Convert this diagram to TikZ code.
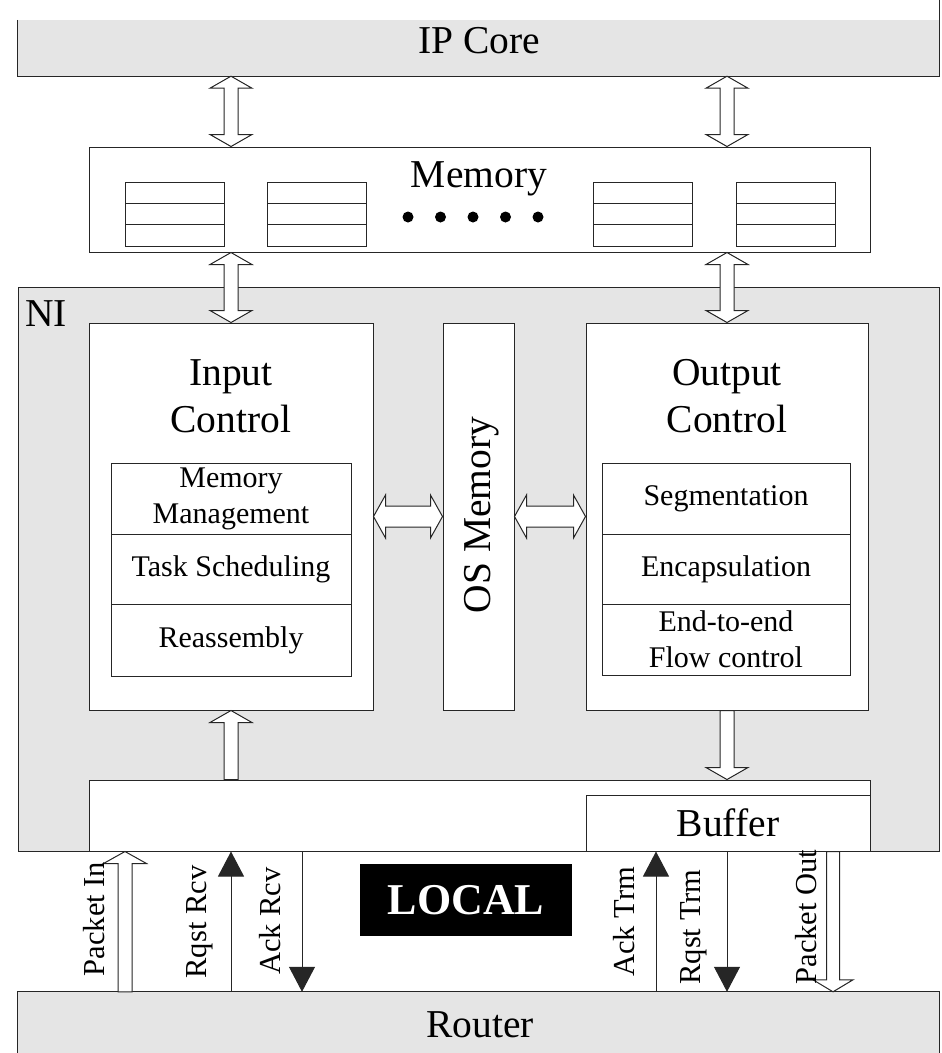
\documentclass[tikz,border=0pt]{standalone}
\usepackage{fontspec}
\setmainfont{Liberation Serif}
\usetikzlibrary{calc,arrows.meta}

\definecolor{nigray}{gray}{0.9}
\tikzset{
  outline/.style={draw=black!85, line width=1pt},
  box/.style={outline, fill=white, inner sep=0pt},
  graybox/.style={box, fill=nigray},
  rowbox/.style={box, align=center, font=\fontsize{30}{36}\selectfont},
  bigtext/.style={font=\fontsize{39.5}{47}\selectfont, inner sep=0pt},
  smalltext/.style={font=\fontsize{30.5}{36}\selectfont, inner sep=0pt},
  hollow/.style={outline, fill=white, line join=miter},
  signal/.style={outline, -{Triangle[length=25pt,width=26pt]}},
}

% hollow arrows: #1 from, #2 to, #3 half shaft, #4 half head
\newcommand{\dblarrow}[4]{%
  \coordinate (hA) at ($(#1)!12pt!(#2)$);
  \coordinate (hB) at ($(#2)!12pt!(#1)$);
  \draw[hollow] (#1) -- ($(hA)!#4!90:(#2)$) -- ($(hA)!#3!90:(#2)$)
    -- ($(hB)!#3!-90:(#1)$) -- ($(hB)!#4!-90:(#1)$) -- (#2)
    -- ($(hB)!#4!90:(#1)$) -- ($(hB)!#3!90:(#1)$)
    -- ($(hA)!#3!-90:(#2)$) -- ($(hA)!#4!-90:(#2)$) -- cycle;}
\newcommand{\sglarrow}[4]{%
  \coordinate (hB) at ($(#2)!12pt!(#1)$);
  \draw[hollow] ($(#1)!#3!90:(#2)$) -- ($(hB)!#3!-90:(#1)$)
    -- ($(hB)!#4!-90:(#1)$) -- (#2) -- ($(hB)!#4!90:(#1)$)
    -- ($(hB)!#3!90:(#1)$) -- ($(#1)!#3!-90:(#2)$) -- cycle;}

\begin{document}
\begin{tikzpicture}[x=1pt, y=-1pt]
  \useasboundingbox (0,0) rectangle (942,1053);
  % IP core
  \node[fill=nigray, minimum width=921pt, minimum height=56pt, inner sep=0pt] (ipcore) at (478.5,48) {};
  \draw[outline] (ipcore.north west) -- (ipcore.south west) -- (ipcore.south east) -- (ipcore.east |- 0,0);
  \node[bigtext, anchor=base] (iplabel) at (479,53) {IP Core};
  % Memory
  \node[box, minimum width=781pt, minimum height=105pt] (memory) at (479.5,199.5) {};
  \node[bigtext, anchor=base] (memlabel) at (479,187) {Memory};
  \foreach \sx in {125,267,593,736} {
    \draw[outline] (\sx,182) rectangle ++(99,64) (\sx,203) -- ++(99,0) (\sx,224) -- ++(99,0);
  }
  \foreach \dx in {408,440.5,473,505.5,538}
    \fill (\dx,217) circle (5.5pt);
  % NI
  \node[graybox, minimum width=921pt, minimum height=564pt] (ni) at (478.5,569) {};
  \node[bigtext, anchor=base west] (nilabel) at (25,326) {NI};
  % Input control
  \node[box, minimum width=284pt, minimum height=387pt] (inctl) at (231,516.5) {};
  \node[bigtext, align=center] (inlabel) at (231,396) {Input\\Control};
  \node[rowbox, minimum width=240pt, minimum height=71pt] (memmgmt) at (231,498.5) {Memory\\Management};
  \node[rowbox, minimum width=240pt, minimum height=70pt] (tasksch) at (231,569) {Task Scheduling};
  \node[rowbox, minimum width=240pt, minimum height=72pt] (reasm) at (231,640) {Reassembly};
  % OS memory
  \node[box, minimum width=71pt, minimum height=387pt] (osmem) at (478.5,516.5) {};
  \node[bigtext, rotate=90] (oslabel) at (482,515) {OS Memory};
  % Output control
  \node[box, minimum width=282pt, minimum height=387pt] (outctl) at (727,516.5) {};
  \node[bigtext, align=center] (outlabel) at (727,396) {Output\\Control};
  \node[rowbox, minimum width=248pt, minimum height=71pt] (segm) at (726,498.5) {Segmentation};
  \node[rowbox, minimum width=248pt, minimum height=70pt] (encap) at (726,569) {Encapsulation};
  \node[rowbox, minimum width=248pt, minimum height=71pt] (flowctl) at (726,639.5) {End-to-end\\Flow control};
  % Interface and buffer
  \node[box, minimum width=781pt, minimum height=71pt] (iface) at (479.5,815.5) {};
  \node[box, bigtext, minimum width=284pt, minimum height=56pt] (buffer) at (728,823) {Buffer};
  % Router
  \node[fill=nigray, minimum width=921pt, minimum height=61pt, inner sep=0pt] (router) at (478.5,1022.5) {};
  \draw[outline] (router.south west) -- (router.north west) -- (router.north east) -- (router.south east);
  \node[bigtext, anchor=base] (rtlabel) at (480,1037) {Router};
  % LOCAL
  \node[fill=black, text=white, font=\fontsize{44}{50}\selectfont\bfseries, minimum width=212pt, minimum height=72pt, inner sep=0pt] (local) at (466,900) {LOCAL};
  % Block arrows
  \dblarrow{ipcore.south -| inctl.center}{memory.north -| inctl.center}{7pt}{21pt}
  \dblarrow{ipcore.south -| outctl.center}{memory.north -| outctl.center}{7pt}{21pt}
  \dblarrow{memory.south -| inctl.center}{inctl.north}{7pt}{21pt}
  \dblarrow{memory.south -| outctl.center}{outctl.north}{7pt}{21pt}
  \dblarrow{inctl.east}{osmem.west}{10.5pt}{21.5pt}
  \dblarrow{osmem.east}{outctl.west}{10.5pt}{21.5pt}
  \sglarrow{iface.north -| inctl.center}{inctl.south}{7pt}{21pt}
  \sglarrow{outctl.south}{iface.north -| outctl.center}{7pt}{21pt}
  % Signals to router
  \foreach \cn/\sx in {pin/125, rqr/231, akr/302, akt/656, rqt/727, pout/833}
    \coordinate (\cn) at (\sx,0);
  \sglarrow{router.north -| pin}{iface.south -| pin}{7pt}{21.5pt}
  \draw[signal] (router.north -| rqr) -- (iface.south -| rqr);
  \draw[signal] (iface.south -| akr) -- (router.north -| akr);
  \draw[signal] (router.north -| akt) -- (iface.south -| akt);
  \draw[signal] (iface.south -| rqt) -- (router.north -| rqt);
  \sglarrow{iface.south -| pout}{router.north -| pout}{6.5pt}{20pt}
  \node[smalltext, rotate=90] (pinlabel) at (94,919) {Packet In};
  \node[smalltext, rotate=90] (rqrlabel) at (200,922) {Rqst Rcv};
  \node[smalltext, rotate=90] (akrlabel) at (270,921) {Ack Rcv};
  \node[smalltext, rotate=90] (aktlabel) at (624,922) {Ack Trm};
  \node[smalltext, rotate=90] (rqtlabel) at (694,927) {Rqst Trm};
  \node[smalltext, rotate=90] (poutlabel) at (806,917) {Packet Out};
\end{tikzpicture}
\end{document}
